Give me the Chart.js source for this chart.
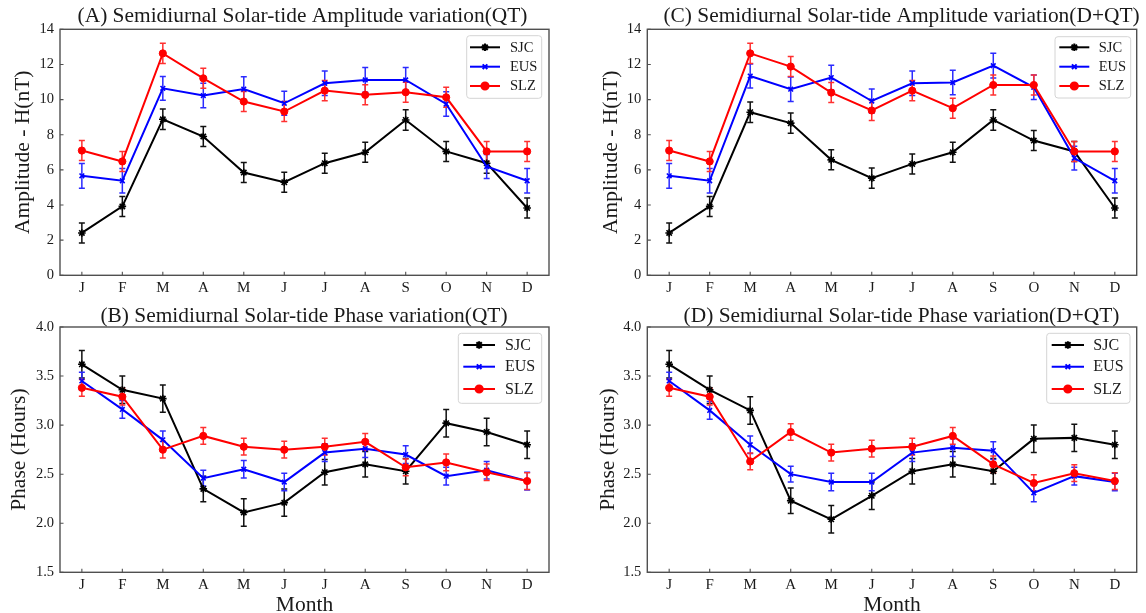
<!DOCTYPE html>
<html><head><meta charset="utf-8">
<script src="https://cdn.jsdelivr.net/npm/chart.js@4.4.0/dist/chart.umd.min.js"></script>
<style>
html,body{margin:0;padding:0;background:#fff;}
body{width:1146px;height:613px;position:relative;overflow:hidden;}
canvas{position:absolute;}
</style></head><body>
<canvas id="cA" style="left:0px;top:0px" width="573" height="300"></canvas>
<canvas id="cC" style="left:573px;top:0px" width="573" height="300"></canvas>
<canvas id="cB" style="left:0px;top:300px" width="573" height="313"></canvas>
<canvas id="cD" style="left:573px;top:300px" width="573" height="313"></canvas>
<script>
// ---------- data ----------
const months = ['J','F','M','A','M','J','J','A','S','O','N','D'];
const stations = ['SJC','EUS','SLZ'];
const ampTicks = [0,2,4,6,8,10,12,14];
const phaseTicks = [1.5,2.0,2.5,3.0,3.5,4.0];

const ampQT_SJC = [2.41,3.92,8.88,7.90,5.85,5.30,6.38,7.00,8.84,7.05,6.38,3.83];
const ampQT_EUS = [5.66,5.38,10.64,10.23,10.60,9.79,10.93,11.12,11.12,9.75,6.19,5.38];
const ampQT_SLZ = [7.10,6.48,12.63,11.21,9.89,9.32,10.51,10.27,10.42,10.13,7.05,7.05];

const ampDQT_SJC = [2.41,3.92,9.28,8.66,6.57,5.53,6.34,7.00,8.84,7.67,7.05,3.83];
const ampDQT_EUS = [5.66,5.38,11.34,10.59,11.25,9.92,10.93,10.97,11.93,10.70,6.67,5.38];
const ampDQT_SLZ = [7.10,6.48,12.63,11.88,10.40,9.38,10.51,9.51,10.83,10.83,7.05,7.05];

const phQT_SJC = [3.62,3.36,3.27,2.35,2.11,2.21,2.52,2.60,2.53,3.02,2.93,2.80];
const phQT_EUS = [3.45,3.16,2.85,2.46,2.55,2.42,2.72,2.76,2.70,2.48,2.54,2.43];
const phQT_SLZ = [3.38,3.29,2.75,2.89,2.78,2.75,2.78,2.83,2.57,2.62,2.52,2.43];

const phDQT_SJC = [3.62,3.36,3.15,2.23,2.04,2.28,2.53,2.60,2.53,2.86,2.87,2.80];
const phDQT_EUS = [3.45,3.15,2.80,2.50,2.42,2.42,2.72,2.77,2.74,2.31,2.48,2.42];
const phDQT_SLZ = [3.38,3.29,2.63,2.93,2.72,2.76,2.78,2.89,2.60,2.41,2.51,2.43];

const ampErr_SJC = [0.57,0.57,0.58,0.57,0.57,0.57,0.57,0.57,0.58,0.57,0.57,0.57];
const ampErr_EUS = [0.70,0.70,0.68,0.70,0.70,0.68,0.70,0.70,0.70,0.70,0.68,0.70];
const ampErr_SLZ = [0.57,0.57,0.57,0.57,0.57,0.57,0.57,0.57,0.57,0.57,0.57,0.57];
const phErr_SJC = [0.14,0.14,0.14,0.13,0.14,0.14,0.13,0.13,0.13,0.14,0.14,0.14];
const phErr_EUS = [0.09,0.09,0.09,0.08,0.09,0.09,0.09,0.09,0.09,0.09,0.09,0.09];
const phErr_SLZ = [0.085,0.085,0.085,0.085,0.085,0.085,0.085,0.085,0.085,0.085,0.085,0.085];

// ---------- styling ----------
const FONT = '"Liberation Serif", "Times New Roman", serif';
const TXT = '#1a1a1a';
const SPINE = '#505050';
const colors = ['#000000','#0000ff','#ff0000'];
const errColors = ['#111111','#2b2bff','#ff3030'];
const styles = ['star','crossRot','circle'];
const radii = [3.8,3.3,3.6];

Chart.defaults.font.family = FONT;
Chart.defaults.font.size = 15;
Chart.defaults.color = TXT;

function drawMarker(ctx, i, x, y) {
  Chart.helpers.drawPoint(ctx, {pointStyle: styles[i], radius: radii[i], borderWidth: i===2?1:1.6, rotation:0}, x, y);
}

const panelPlugin = {
  id: 'panel',
  beforeDatasetsDraw(chart) {
    const ctx = chart.ctx, xs = chart.scales.x, ys = chart.scales.y;
    chart.data.datasets.forEach((ds, k) => {
      ctx.save();
      ctx.strokeStyle = ds.errColor; ctx.lineWidth = 1.5;
      ds.data.forEach((p, i) => {
        const e = ds.errors[i];
        const x = xs.getPixelForValue(p.x);
        const y1 = ys.getPixelForValue(p.y - e), y2 = ys.getPixelForValue(p.y + e);
        ctx.beginPath();
        ctx.moveTo(x, y1); ctx.lineTo(x, y2);
        ctx.moveTo(x-3, y1); ctx.lineTo(x+3, y1);
        ctx.moveTo(x-3, y2); ctx.lineTo(x+3, y2);
        ctx.stroke();
      });
      ctx.restore();
    });
  },
  afterDraw(chart, args, o) {
    const ctx = chart.ctx, a = chart.chartArea, xs = chart.scales.x, ys = chart.scales.y;
    ctx.save();
    // box
    ctx.strokeStyle = SPINE; ctx.lineWidth = 1.4;
    ctx.strokeRect(a.left, a.top, a.right - a.left, a.bottom - a.top);
    // inward ticks
    ctx.lineWidth = 1.1;
    ctx.beginPath();
    xs.ticks.forEach(t => { const x = xs.getPixelForValue(t.value); ctx.moveTo(x, a.bottom); ctx.lineTo(x, a.bottom - 3.5); });
    ys.ticks.forEach(t => { const y = ys.getPixelForValue(t.value); ctx.moveTo(a.left, y); ctx.lineTo(a.left + 3.5, y); });
    ctx.stroke();
    // title
    ctx.fillStyle = TXT;
    ctx.font = '21.4px ' + FONT;
    ctx.textAlign = 'center'; ctx.textBaseline = 'alphabetic';
    ctx.fillText(o.title, o.titleX, 22);
    // y title
    ctx.font = '21.5px ' + FONT;
    ctx.save();
    ctx.translate(o.yTitleX, (a.top + a.bottom) / 2);
    ctx.rotate(-Math.PI / 2);
    ctx.textBaseline = 'middle';
    ctx.fillText(o.yTitle, 0, 0);
    ctx.restore();
    // x title
    if (o.xTitle) {
      ctx.textBaseline = 'alphabetic';
      ctx.fillText(o.xTitle, (a.left + a.right) / 2, o.xTitleY);
    }
    // legend
    const L = o.legend;
    ctx.beginPath();
    ctx.fillStyle = 'rgba(255,255,255,0.9)';
    ctx.strokeStyle = '#d4d4d4'; ctx.lineWidth = 1;
    ctx.roundRect(L.x0, L.y0, L.x1 - L.x0, L.y1 - L.y0, 3);
    ctx.fill(); ctx.stroke();
    chart.data.datasets.forEach((ds, i) => {
      const y = L.rows[i];
      ctx.strokeStyle = colors[i]; ctx.lineWidth = 2;
      ctx.beginPath(); ctx.moveTo(L.lx0, y); ctx.lineTo(L.lx1, y); ctx.stroke();
      ctx.fillStyle = colors[i]; ctx.strokeStyle = colors[i];
      drawMarker(ctx, i, (L.lx0 + L.lx1) / 2, y);
      ctx.fillStyle = TXT;
      ctx.font = L.font + 'px ' + FONT;
      ctx.textAlign = 'left'; ctx.textBaseline = 'middle';
      ctx.fillText(ds.label, L.tx, y + 0.5);
    });
    ctx.restore();
  }
};

function makeChart(id, series, errs, yTicks, yMin, yMax, fmt, geo, panel) {
  const datasets = series.map((vals, i) => ({
    label: stations[i],
    data: vals.map((v, j) => ({x: j, y: v})),
    errors: errs[i],
    errColor: errColors[i],
    borderColor: colors[i],
    backgroundColor: colors[i],
    borderWidth: 2,
    pointStyle: styles[i],
    pointRadius: radii[i],
    pointBorderWidth: i === 2 ? 1 : 1.6,
    pointBackgroundColor: colors[i],
    pointBorderColor: colors[i],
    tension: 0,
    order: 3 - i
  }));
  return new Chart(document.getElementById(id), {
    type: 'line',
    data: {datasets},
    plugins: [panelPlugin],
    options: {
      responsive: false,
      animation: false,
      events: [],
      layout: {padding: {left: 0, top: geo.top, right: geo.right, bottom: 0}},
      plugins: {legend: {display: false}, tooltip: {enabled: false}, title: {display: false}, panel},
      scales: {
        x: {
          type: 'linear', min: -0.54, max: 11.54,
          grid: {display: false, drawTicks: false},
          border: {display: false},
          afterBuildTicks: s => { s.ticks = months.map((m, i) => ({value: i})); },
          afterFit: s => { s.height = geo.xH; },
          ticks: {autoSkip: false, maxRotation: 0, padding: 4, font: {size: 15}, color: TXT,
                  callback: v => months[Math.round(v)]}
        },
        y: {
          type: 'linear', min: yMin, max: yMax,
          grid: {display: false, drawTicks: false},
          border: {display: false},
          afterBuildTicks: s => { s.ticks = yTicks.map(v => ({value: v})); },
          afterFit: s => { s.width = geo.yW; },
          ticks: {padding: 6, font: {size: 14.5}, color: TXT, callback: fmt}
        }
      }
    }
  });
}

const fmtInt = v => String(v);
const fmt1 = v => Number(v).toFixed(1);

const legTop = {x0: 466.7, y0: 35.7, x1: 541.7, y1: 98.3, lx0: 470, lx1: 500, tx: 510, rows: [47.3, 66.7, 86], font: 14.5};
const legTopR = {x0: 482, y0: 36.7, x1: 557.7, y1: 98, lx0: 486.3, lx1: 516.3, tx: 525.7, rows: [47.3, 66.7, 86], font: 14.5};
const legBot = {x0: 458.3, y0: 33.3, x1: 541.7, y1: 103.3, lx0: 463.3, lx1: 495, tx: 505, rows: [45, 66.7, 89], font: 16};
const legBotR = {x0: 473.7, y0: 33.3, x1: 557, y1: 103.3, lx0: 478.7, lx1: 511, tx: 520.3, rows: [45, 66.7, 89], font: 16};

makeChart('cA', [ampQT_SJC, ampQT_EUS, ampQT_SLZ], [ampErr_SJC, ampErr_EUS, ampErr_SLZ], ampTicks, 0, 14, fmtInt,
  {top: 29.3, right: 24, xH: 24.7, yW: 60},
  {title: '(A) Semidiurnal Solar-tide Amplitude variation(QT)', titleX: 302.5, yTitle: 'Amplitude - H(nT)', yTitleX: 23, legend: legTop});
makeChart('cC', [ampDQT_SJC, ampDQT_EUS, ampDQT_SLZ], [ampErr_SJC, ampErr_EUS, ampErr_SLZ], ampTicks, 0, 14, fmtInt,
  {top: 29.3, right: 9.3, xH: 24.7, yW: 74.3},
  {title: '(C) Semidiurnal Solar-tide Amplitude variation(D+QT)', titleX: 328.5, yTitle: 'Amplitude - H(nT)', yTitleX: 38, legend: legTopR});
makeChart('cB', [phQT_SJC, phQT_EUS, phQT_SLZ], [phErr_SJC, phErr_EUS, phErr_SLZ], phaseTicks, 1.5, 4.0, fmt1,
  {top: 27, right: 24, xH: 40.7, yW: 60},
  {title: '(B) Semidiurnal Solar-tide Phase variation(QT)', titleX: 304, yTitle: 'Phase (Hours)', yTitleX: 19, xTitle: 'Month', xTitleY: 311, legend: legBot});
makeChart('cD', [phDQT_SJC, phDQT_EUS, phDQT_SLZ], [phErr_SJC, phErr_EUS, phErr_SLZ], phaseTicks, 1.5, 4.0, fmt1,
  {top: 27, right: 9.3, xH: 40.7, yW: 74.3},
  {title: '(D) Semidiurnal Solar-tide Phase variation(D+QT)', titleX: 328.5, yTitle: 'Phase (Hours)', yTitleX: 35, xTitle: 'Month', xTitleY: 311, legend: legBotR});
</script>
</body></html>
